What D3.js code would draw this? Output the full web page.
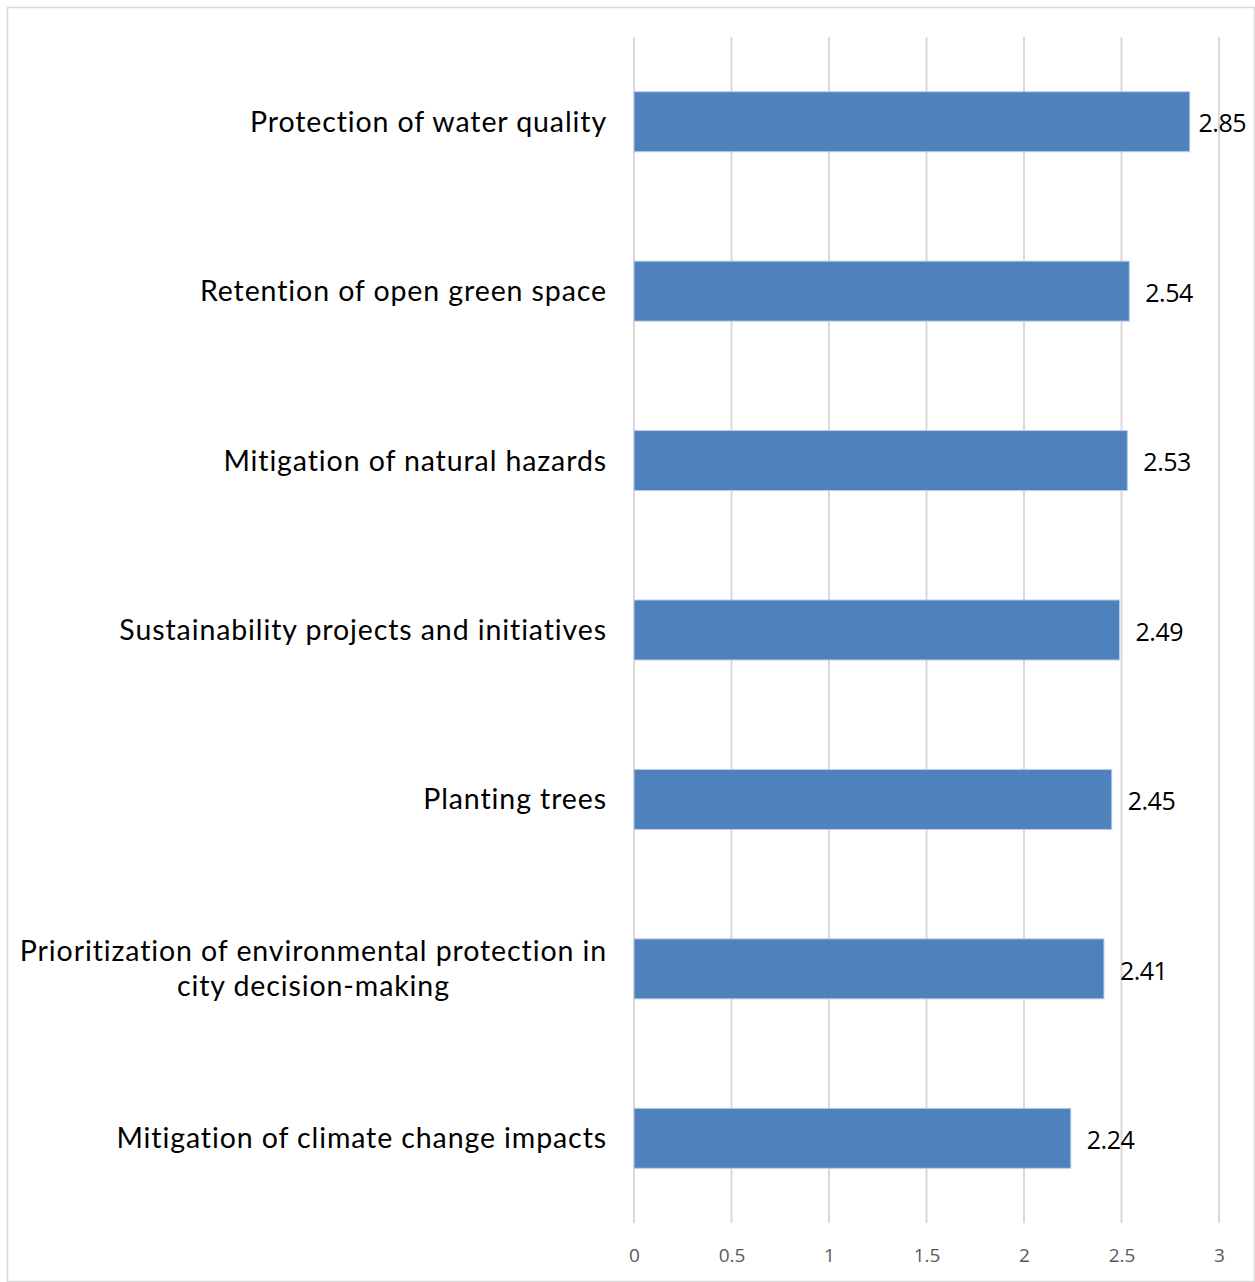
<!DOCTYPE html>
<html>
<head>
<meta charset="utf-8">
<script src="https://cdn.jsdelivr.net/npm/d3@7"></script>
<style>
  body { margin: 0; background: #fff; }
  svg { display: block; }
</style>
</head>
<body>
<div id="chart"></div>
<script>
var categories = [
  "Protection of water quality",
  "Retention of open green space",
  "Mitigation of natural hazards",
  "Sustainability projects and initiatives",
  "Planting trees",
  "Prioritization of environmental protection in city decision-making",
  "Mitigation of climate change impacts"
];
var values = [2.85, 2.54, 2.53, 2.49, 2.45, 2.41, 2.24];
var ticks = [0, 0.5, 1, 1.5, 2, 2.5, 3];

var W = 1255, H = 1282;
var margin = {top: 37, right: 36, bottom: 59, left: 634};
var width = W - margin.left - margin.right,
    height = H - margin.top - margin.bottom;

var svg = d3.select("#chart").append("svg")
    .attr("width", W)
    .attr("height", H);

// outer frame
svg.append("rect")
    .attr("x", 7.5).attr("y", 7.5)
    .attr("width", W - 8).attr("height", H - 8)
    .attr("fill", "#fff")
    .attr("stroke", "#d9d9d9")
    .attr("stroke-width", 1.5);

var g = svg.append("g")
    .attr("transform", "translate(" + margin.left + "," + margin.top + ")");

var x = d3.scaleLinear().domain([0, 3]).range([0, 585]);
var y = d3.scaleBand()
    .domain(categories)
    .range([0, height])
    .paddingInner(0.646)
    .paddingOuter(0.323);

// gridlines
g.selectAll(".grid")
    .data(ticks)
    .enter().append("line")
    .attr("class", "grid")
    .attr("x1", function(d) { return x(d); })
    .attr("x2", function(d) { return x(d); })
    .attr("y1", 0)
    .attr("y2", height)
    .attr("stroke", "#d9d9d9")
    .attr("stroke-width", 2);

// x axis tick labels
var xAxis = d3.axisBottom(x).tickValues(ticks).tickSize(0).tickPadding(0)
    .tickFormat(function(d) { return d; });
var ax = g.append("g")
    .attr("transform", "translate(0," + height + ")")
    .call(xAxis);
ax.select(".domain").remove();
ax.selectAll("text")
    .attr("y", 32)
    .attr("dy", "0.35em")
    .style("font-family", "'Open Sans', sans-serif")
    .style("font-size", "19px")
    .style("fill", "#595959");

// bars
g.selectAll(".bar")
    .data(values)
    .enter().append("rect")
    .attr("class", "bar")
    .attr("x", x(0))
    .attr("y", function(d, i) { return y(categories[i]); })
    .attr("width", function(d) { return x(d); })
    .attr("height", y.bandwidth())
    .attr("fill", "#4f81bd")
    .attr("stroke", "#b9cde5")
    .attr("stroke-width", 1);

// value labels
g.selectAll(".val")
    .data(values)
    .enter().append("text")
    .attr("class", "val")
    .attr("y", function(d, i) { return y(categories[i]) + y.bandwidth() / 2 + 2; })
    .attr("dy", "0.35em")
    .style("font-family", "'Open Sans', sans-serif")
    .style("font-size", "25px")
    .style("letter-spacing", "-0.5px")
    .style("fill", "#000")
    .text(function(d) { return d.toFixed(2); })
    .attr("x", function(d) {
      var w = this.getComputedTextLength();
      return Math.min(x(d) + 16, W - margin.left - 9 - w);
    });

// category labels, wrapped
var labelRight = -27, maxW = 595;
g.selectAll(".cat")
    .data(categories)
    .enter().append("text")
    .attr("class", "cat")
    .style("font-family", "Lato, sans-serif")
    .style("font-weight", "400")
    .style("font-size", "28.5px")
    .style("letter-spacing", "0.9px")
    .style("fill", "#000")
    .each(function(d) {
      var t = d3.select(this);
      var words = d.split(" "), lines = [], line = [];
      var probe = t.append("tspan");
      words.forEach(function(w) {
        line.push(w);
        probe.text(line.join(" "));
        if (probe.node().getComputedTextLength() > maxW && line.length > 1) {
          line.pop();
          lines.push(line.join(" "));
          line = [w];
        }
      });
      lines.push(line.join(" "));
      probe.remove();
      var cy = y(d) + y.bandwidth() / 2;
      var lh = 35;
      var y0 = cy - (lines.length - 1) * lh / 2;
      var widths = lines.map(function(l) {
        var p = t.append("tspan").text(l);
        var w = p.node().getComputedTextLength();
        p.remove();
        return w;
      });
      var mw = d3.max(widths);
      var anchor = lines.length > 1 ? "middle" : "end";
      var ax = lines.length > 1 ? labelRight - mw / 2 : labelRight;
      lines.forEach(function(l, i) {
        t.append("tspan")
          .attr("x", ax)
          .attr("y", y0 + i * lh)
          .attr("dy", "0.35em")
          .attr("text-anchor", anchor)
          .text(l);
      });
    });
</script>
</body>
</html>
